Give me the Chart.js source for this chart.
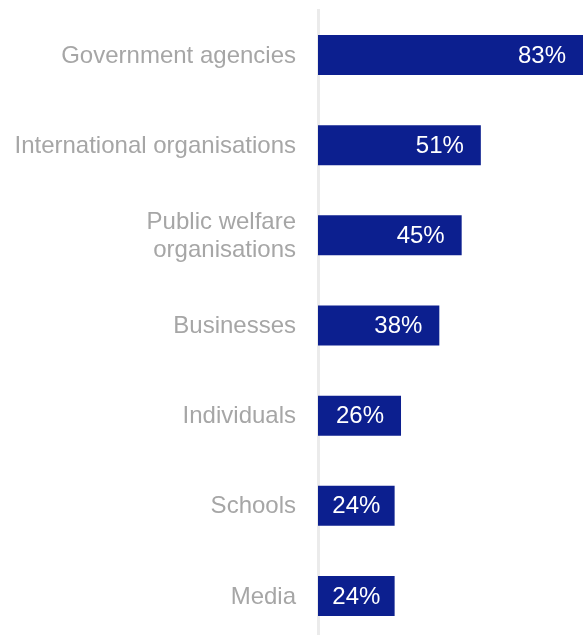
<!DOCTYPE html>
<html>
<head>
<meta charset="utf-8">
<script src="https://cdn.jsdelivr.net/npm/chart.js@4"></script>
<style>
  html, body { margin: 0; padding: 0; background: #fff; overflow: hidden; }
</style>
</head>
<body>
<canvas id="chartBar" width="583" height="641"></canvas>
<script>
// who the respondents trust with their data
const categories = [
  'Government agencies',
  'International organisations',
  ['Public welfare', 'organisations'],
  'Businesses',
  'Individuals',
  'Schools',
  'Media'
];
const shares = [83, 51, 45, 38, 26, 24, 24];

const barColor = '#0c1f8f';
const labelColor = '#a6a6a6';
const fontFamily = '"Liberation Sans", Arial, sans-serif';

// white value labels, right aligned inside the end of each bar
const barValues = {
  id: 'barValues',
  afterDatasetsDraw(chart) {
    const ctx = chart.ctx;
    const meta = chart.getDatasetMeta(0);
    ctx.save();
    ctx.font = '24px ' + fontFamily;
    ctx.fillStyle = '#ffffff';
    ctx.textAlign = 'right';
    ctx.textBaseline = 'middle';
    meta.data.forEach((bar, i) => {
      const text = shares[i] + '%';
      const w = ctx.measureText(text).width;
      const mid = (bar.base + bar.x) / 2;
      const right = Math.max(bar.x - 17, mid + w / 2);
      ctx.fillText(text, right, bar.y + 1);
    });
    ctx.restore();
  }
};

function chartBar1 () {
  const ctx = document.getElementById('chartBar');
  new Chart(ctx, {
    type: 'bar',
    data: {
      labels: categories,
      datasets: [{
        label: '',
        data: shares,
        backgroundColor: barColor,
        categoryPercentage: 1,
        barPercentage: 0.444
      }]
    },
    options: {
      indexAxis: 'y',
      responsive: false,
      animation: false,
      devicePixelRatio: 1,
      layout: {
        padding: { top: 10, right: 0, bottom: 0, left: 0 }
      },
      plugins: {
        legend: { display: false },
        tooltip: { enabled: false }
      },
      scales: {
        x: {
          display: false,
          min: 0,
          max: 83
        },
        y: {
          grid: { display: false, drawTicks: false },
          border: { display: true, color: '#ebebeb', width: 3 },
          ticks: {
            color: labelColor,
            padding: 22,
            labelOffset: 1,
            font: { family: fontFamily, size: 24, lineHeight: 1.15 }
          },
          // fixed label column, no extra room for half labels at the ends
          afterFit(scale) {
            scale.width = 318;
            scale.paddingTop = 0;
            scale.paddingBottom = 0;
          }
        }
      }
    },
    plugins: [barValues]
  });
}

chartBar1();
</script>
</body>
</html>
